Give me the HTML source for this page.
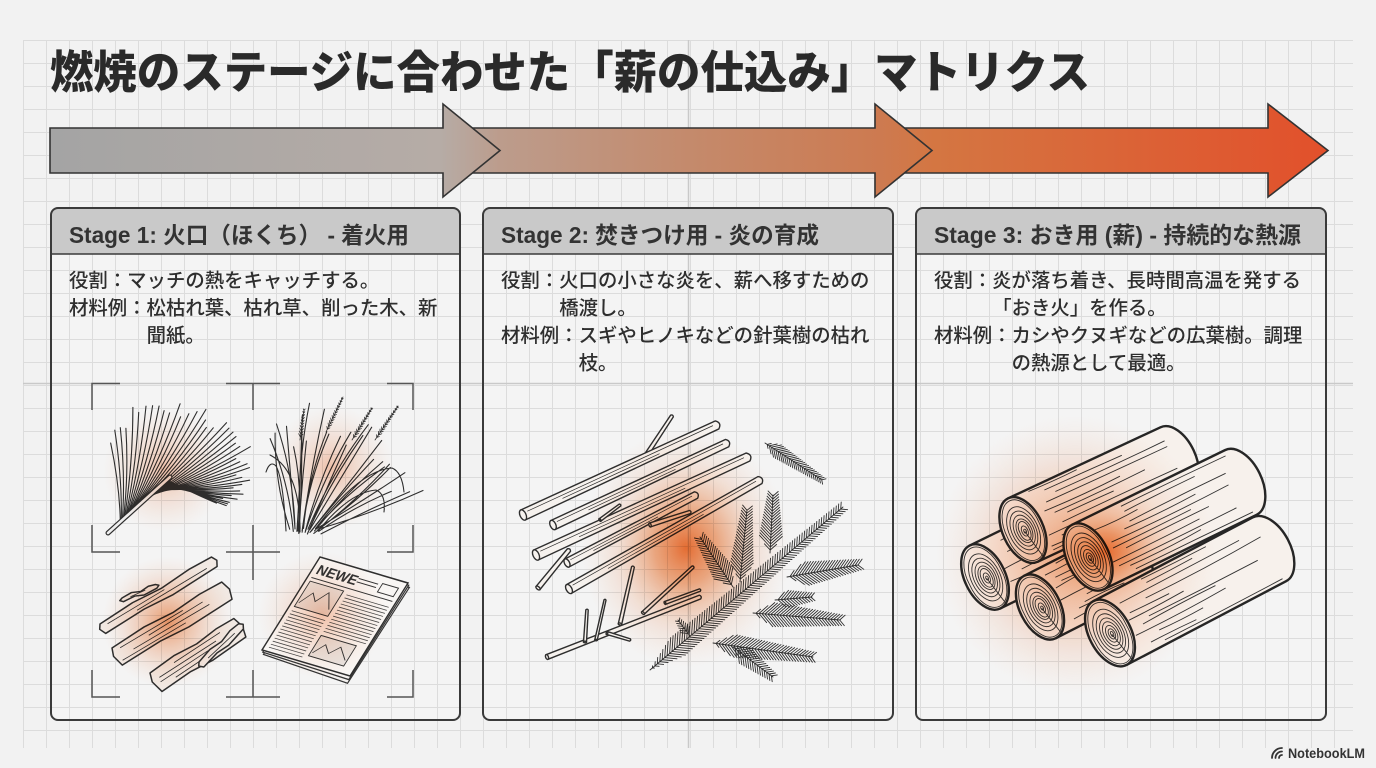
<!DOCTYPE html>
<html><head><meta charset="utf-8">
<style>
html,body{margin:0;padding:0;background:#f2f2f2;width:1376px;height:768px;overflow:hidden;}
svg{display:block}
.t{font-family:"Liberation Sans","Noto Sans CJK JP",sans-serif;}
.body{font-family:"Liberation Sans","Noto Sans CJK JP",sans-serif;font-size:19.4px;fill:#2e2e2e;font-weight:500;}
.hd{font-family:"Liberation Sans","Noto Sans CJK JP",sans-serif;font-size:23px;fill:#333;font-weight:bold;}
</style></head><body>
<svg id="s" width="1376" height="768" viewBox="0 0 1376 768" xmlns="http://www.w3.org/2000/svg">
<defs>
<pattern id="grid" x="0" y="17" width="23" height="23" patternUnits="userSpaceOnUse">
<path d="M0.5 0V23M0 0.5H23" stroke="#dcdcdc" stroke-width="1" fill="none"/>
</pattern>
<linearGradient id="ag" gradientUnits="userSpaceOnUse" x1="50" y1="0" x2="1328" y2="0">
<stop offset="0" stop-color="#a4a4a4"/>
<stop offset="0.305" stop-color="#b6aca6"/>
<stop offset="0.352" stop-color="#bc9c8c"/>
<stop offset="0.5" stop-color="#c48a6c"/>
<stop offset="0.65" stop-color="#cd7a50"/>
<stop offset="0.692" stop-color="#d47642"/>
<stop offset="1" stop-color="#e2502b"/>
</linearGradient>
<radialGradient id="gl"><stop offset="0" stop-color="#f5a47c" stop-opacity="0.6"/><stop offset="0.6" stop-color="#f8c4a8" stop-opacity="0.25"/><stop offset="1" stop-color="#fbd8c4" stop-opacity="0"/></radialGradient>
<radialGradient id="gm"><stop offset="0" stop-color="#f08a50" stop-opacity="0.8"/><stop offset="0.55" stop-color="#f5ad85" stop-opacity="0.35"/><stop offset="1" stop-color="#fbd8c4" stop-opacity="0"/></radialGradient>
<radialGradient id="gs"><stop offset="0" stop-color="#ee6a2a" stop-opacity="0.95"/><stop offset="0.3" stop-color="#f08a50" stop-opacity="0.7"/><stop offset="0.65" stop-color="#f6b894" stop-opacity="0.3"/><stop offset="1" stop-color="#fbd8c4" stop-opacity="0"/></radialGradient>
</defs>

<rect width="1376" height="768" fill="#f2f2f2"/>
<rect x="23" y="40" width="1330" height="708" fill="url(#grid)"/>

<!-- panel bodies -->
<rect x="51" y="208" width="409" height="512" rx="7" fill="#f4f4f4"/>
<rect x="51" y="208" width="409" height="512" rx="7" fill="url(#grid)"/>
<rect x="483" y="208" width="410" height="512" rx="7" fill="#f4f4f4"/>
<rect x="483" y="208" width="410" height="512" rx="7" fill="url(#grid)"/>
<rect x="916" y="208" width="410" height="512" rx="7" fill="#f4f4f4"/>
<rect x="916" y="208" width="410" height="512" rx="7" fill="url(#grid)"/>

<!-- crosshair -->
<line x1="23" y1="383.5" x2="1353" y2="383.5" stroke="#c9c9c9" stroke-width="1.5"/>
<line x1="688.5" y1="40" x2="688.5" y2="748" stroke="#c9c9c9" stroke-width="1.5"/>

<!-- panel headers & borders -->
<path d="M51,254V215Q51,208 58,208H453Q460,208 460,215V254Z" fill="#c9c9c9"/>
<path d="M483,254V215Q483,208 490,208H886Q893,208 893,215V254Z" fill="#c9c9c9"/>
<path d="M916,254V215Q916,208 923,208H1319Q1326,208 1326,215V254Z" fill="#c9c9c9"/>
<g stroke="#3a3a3a" stroke-width="1.6" fill="none">
<line x1="51" y1="254" x2="460" y2="254"/>
<line x1="483" y1="254" x2="893" y2="254"/>
<line x1="916" y1="254" x2="1326" y2="254"/>
<rect x="51" y="208" width="409" height="512" rx="7" stroke-width="2"/>
<rect x="483" y="208" width="410" height="512" rx="7" stroke-width="2"/>
<rect x="916" y="208" width="410" height="512" rx="7" stroke-width="2"/>
</g>

<!-- title -->
<text class="t" x="50" y="88" font-size="45" font-weight="900" fill="#2a2a2a" textLength="1040" lengthAdjust="spacingAndGlyphs">燃焼のステージに合わせた「薪の仕込み」マトリクス</text>

<!-- arrows -->
<g stroke="#333" stroke-width="1.6" fill="url(#ag)" stroke-linejoin="miter">
<polygon points="895,128 1268,128 1268,104 1328,150.5 1268,197 1268,173 895,173"/>
<polygon points="465,128 875,128 875,104 932,150.5 875,197 875,173 465,173"/>
<polygon points="50,128 443,128 443,104 500,150.5 443,197 443,173 50,173"/>
</g>

<!-- headers text -->
<text class="hd" x="69" y="243" textLength="340" lengthAdjust="spacingAndGlyphs">Stage 1: 火口（ほくち） - 着火用</text>
<text class="hd" x="501" y="243" textLength="318" lengthAdjust="spacingAndGlyphs">Stage 2: 焚きつけ用 - 炎の育成</text>
<text class="hd" x="934" y="243" textLength="367" lengthAdjust="spacingAndGlyphs">Stage 3: おき用 (薪) - 持続的な熱源</text>

<!-- body text -->
<text class="body" x="69" y="287">役割：マッチの熱をキャッチする。</text>
<text class="body" x="69" y="314.5">材料例：松枯れ葉、枯れ草、削った木、新</text>
<text class="body" x="146.6" y="342">聞紙。</text>

<text class="body" x="501" y="287">役割：火口の小さな炎を、薪へ移すための</text>
<text class="body" x="559.2" y="314.5">橋渡し。</text>
<text class="body" x="501" y="342">材料例：スギやヒノキなどの針葉樹の枯れ</text>
<text class="body" x="578.6" y="369.5">枝。</text>

<text class="body" x="934" y="287">役割：炎が落ち着き、長時間高温を発する</text>
<text class="body" x="992.2" y="314.5">「おき火」を作る。</text>
<text class="body" x="934" y="342">材料例：カシやクヌギなどの広葉樹。調理</text>
<text class="body" x="1011.6" y="369.5">の熱源として最適。</text>

<!-- crop marks panel 1 -->
<g stroke="#555" stroke-width="1.5" fill="none">
<path d="M92,410V383.5H120"/>
<path d="M226,383.5H280M253,383.5V410"/>
<path d="M387,383.5H413V410"/>
<path d="M92,525V552H120"/>
<path d="M226,552H280M253,525V580"/>
<path d="M387,552H413V525"/>
<path d="M92,670V697H120"/>
<path d="M226,697H280M253,697V670"/>
<path d="M387,697H413V670"/>
</g>

<!-- newspaper -->
<g transform="matrix(0.88,0.26,-0.527,0.845,320,557)">
<path d="M6,8 L104,4 L102,118 L4,114Z" fill="#f3f0ee" stroke="#333" stroke-width="1.3"/>
<path d="M3,4 L102,2 L101,114 L2,112Z" fill="#f6f3f1" stroke="#333" stroke-width="1.3"/>
<path d="M0,0 L100,0 L100,110 L0,110Z" fill="#f8f6f4" stroke="#2e2e2e" stroke-width="1.6"/>
<text x="5" y="18" font-family="Liberation Sans, sans-serif" font-weight="bold" font-size="15" fill="#333">NEWE</text>
<rect x="76" y="8" width="18" height="10" fill="none" stroke="#333" stroke-width="1"/>
<path d="M50,10H72M50,14H72M4,23H96" stroke="#333" stroke-width="1"/>
<rect x="5" y="27" width="38" height="30" fill="#e9e5e2" stroke="#333" stroke-width="1"/>
<path d="M7,52L15,38L22,46L30,33L40,50" stroke="#333" stroke-width="0.9" fill="none"/>
<rect x="48" y="78" width="40" height="24" fill="#e9e5e2" stroke="#333" stroke-width="1"/>
<path d="M50,98L58,86L66,94L74,84L86,96" stroke="#333" stroke-width="0.9" fill="none"/>
<path id="nplines" stroke="#444" stroke-width="0.8" fill="none" d=""/>
</g>

<g id="ill"></g>

<!-- glows -->
<g style="mix-blend-mode:multiply">
<circle cx="165" cy="470" r="62" fill="url(#gl)"/>
<circle cx="332" cy="468" r="62" fill="url(#gl)"/>
<circle cx="168" cy="622" r="66" fill="url(#gm)"/>
<circle cx="322" cy="615" r="64" fill="url(#gl)"/>
<ellipse cx="686" cy="548" rx="105" ry="120" fill="url(#gs)"/>
<circle cx="1075" cy="555" r="140" fill="url(#gm)"/>
<ellipse cx="1105" cy="552" rx="78" ry="62" fill="url(#gs)"/>
</g>

<!-- NotebookLM -->
<g stroke="#333" stroke-width="1.8" fill="none" stroke-linecap="round">
<path d="M1272,758A10,10 0 0 1 1282,748"/>
<path d="M1275.5,758A6.5,6.5 0 0 1 1282,751.5"/>
<path d="M1279,758A3,3 0 0 1 1282,755"/>
</g>
<text x="1288" y="758" font-family="Liberation Sans, sans-serif" font-weight="bold" font-size="14" fill="#333" textLength="77" lengthAdjust="spacingAndGlyphs">NotebookLM</text>
</svg>

<script>
(function(){
const NS="http://www.w3.org/2000/svg";
function el(p,t,a){const e=document.createElementNS(NS,t);for(const k in a)e.setAttribute(k,a[k]);p.appendChild(e);return e;}
let seed=11;function rnd(){seed=(seed*16807)%2147483647;return (seed-1)/2147483646;}
const ill=document.getElementById('ill');
const K='#2e2e2e';
const f=n=>n.toFixed(1);

/* newspaper lines */
let nd='';
for(let y=62;y<=106;y+=3.6){ nd+=`M5,${f(y)}H43`; }
for(let y=30;y<=74;y+=3.6){ nd+=`M48,${f(y)}H96`; }
document.getElementById('nplines').setAttribute('d',nd);

/* pine needles */
(function(){
 let d='';
 const n=44;
 for(let i=0;i<n;i++){
  const t=i/(n-1);
  const u=0.15+0.85*t;
  const ox=112+55*u, oy=528-48*u;
  const phi=(-97+122*t)*Math.PI/180;
  let len=112;
  if(t>0.55) len-=55*(t-0.55)/0.45;
  if(t<0.15) len-=25*(0.15-t)/0.15;
  len*=(0.9+0.2*rnd());
  const tx=ox+len*Math.cos(phi), ty=oy+len*Math.sin(phi);
  const cx=(ox+tx)/2+4, cy=(oy+ty)/2+3;
  d+=`M${f(ox)},${f(oy)}Q${f(cx)},${f(cy)} ${f(tx)},${f(ty)}`;
 }
 el(ill,'path',{d,stroke:K,'stroke-width':1.1,fill:'none','stroke-linecap':'round'});
 el(ill,'path',{d:'M108,533L170,477',stroke:K,'stroke-width':5,'stroke-linecap':'round'});
 el(ill,'path',{d:'M108,533L170,477',stroke:'#eee','stroke-width':2.6,'stroke-linecap':'round'});
})();

/* fern helper */
function fern(x0,y0,x1,y1,maxLen,step,sw,spread){
  spread=spread||0.8;
  const dx=x1-x0,dy=y1-y0,L=Math.hypot(dx,dy),ux=dx/L,uy=dy/L;
  let d=`M${f(x0)},${f(y0)}L${f(x1)},${f(y1)}`;
  const base=Math.atan2(uy,ux);
  for(let s=step;s<L;s+=step){
    const t=s/L;
    let len=maxLen*(1-0.6*t);
    if(t<0.1) len*=t/0.1;
    const px=x0+ux*s, py=y0+uy*s;
    for(const sg of [1,-1]){
      const a=base+sg*spread;
      d+=`M${f(px)},${f(py)}l${f(Math.cos(a)*len)},${f(Math.sin(a)*len)}`;
    }
  }
  el(ill,'path',{d,stroke:K,'stroke-width':sw,fill:'none','stroke-linecap':'round'});
}

/* grass */
(function(){
 let d='';
 const n=28;
 for(let i=0;i<n;i++){
  const t=i/(n-1);
  const bx=289+30*t+rnd()*4, by=534-rnd()*6;
  const ang=(-104+78*t+(rnd()-0.5)*12)*Math.PI/180;
  const len=(t<0.5?92+60*t:122-45*(t-0.5))*(0.8+0.35*rnd());
  const tx=bx+len*Math.cos(ang), ty=by+len*Math.sin(ang);
  const off=(rnd()-0.5)*16;
  const cx=(bx+tx)/2+off*Math.sin(ang), cy=(by+ty)/2-off*Math.cos(ang);
  d+=`M${f(bx)},${f(by)}Q${f(cx)},${f(cy)} ${f(tx)},${f(ty)}`;
 }
 d+='M286,531Q283,478 276,466Q270,460 266,472';
 d+='M316,528Q360,470 392,468Q402,472 404,492';
 d+='M318,531Q350,492 376,490Q386,494 384,512';
 d+='M300,532Q300,470 270,455';
 el(ill,'path',{d,stroke:K,'stroke-width':1.1,fill:'none','stroke-linecap':'round'});
 fern(326,432,343,397,4,3,0.8,0.6);
 fern(352,440,372,408,4,3,0.8,0.6);
 fern(375,440,398,406,4,3,0.8,0.6);
 fern(300,440,304,410,4,3,0.8,0.6);
})();

/* wood shavings */
function strip(x0,y0,ang,L,w){
 const g=el(ill,'g',{transform:`translate(${x0},${y0}) rotate(${ang})`});
 const d=`M0,0L${f(L*0.3)},-1.5L${f(L*0.55)},1L${f(L*0.8)},-1L${L},0L${L+3},${f(w*0.5)}L${L},${w}L${f(L*0.6)},${f(w+1.5)}L${f(L*0.35)},${f(w-1)}L0,${w}L-3,${f(w*0.4)}Z`;
 el(g,'path',{d,fill:'#f1e9e3',stroke:K,'stroke-width':1.5,'stroke-linejoin':'round'});
 let gd='';
 const k=Math.max(1,Math.floor(w/5));
 for(let i=1;i<=k;i++){const yy=i*w/(k+1);const s=rnd()*L*0.3;gd+=`M${f(s)},${f(yy)}L${f(s+L*0.4+rnd()*L*0.3)},${f(yy+(rnd()-0.5)*2)}`;}
 el(g,'path',{d:gd,stroke:K,'stroke-width':0.8,fill:'none'});
}
strip(100,624,-31,130,11);
strip(112,648,-31,128,20);
strip(150,673,-33,100,22);
strip(199,662,-44,55,7);
strip(122,598,-22,36,4);

/* sticks */
function stick(x0,y0,x1,y1,w){
  const ang=Math.atan2(y1-y0,x1-x0)*180/Math.PI, L=Math.hypot(x1-x0,y1-y0);
  const g=el(ill,'g',{transform:`translate(${x0},${y0}) rotate(${f(ang)})`});
  const r=w/2;
  el(g,'path',{d:`M0,${-r}L${f(L)},${f(-r*0.8)}Q${f(L+r)},0 ${f(L)},${f(r*0.8)}L0,${r}Z`,fill:'#f6f2ee',stroke:K,'stroke-width':1.4});
  if(w>6) el(g,'path',{d:`M${r},${f(-r*0.3)}L${f(L-4)},${f(-r*0.2)}M${f(L*0.2)},${f(r*0.3)}L${f(L*0.7)},${f(r*0.35)}`,stroke:K,'stroke-width':0.7,fill:'none'});
  el(g,'ellipse',{cx:0,cy:0,rx:f(r*0.55),ry:r,fill:'#f6f2ee',stroke:K,'stroke-width':1.4});
}
stick(643,460,672,416,4);
stick(523,515,717,425,11);
stick(553,525,727,443,10);
stick(536,555,748,457,11);
stick(600,520,620,505,3);
stick(567,563,696,495,9);
stick(650,525,690,512,4);
stick(569,589,760,480,10);
stick(538,588,569,550,5);
/* twig branch */
stick(547,657,700,597,5);
stick(585,642,587,610,3);
stick(620,624,633,567,3.5);
stick(643,613,693,567,3.5);
stick(607,633,630,640,3);
stick(665,603,700,590,3);
stick(596,640,605,600,2.5);

/* ferns */
fern(765,443,822,480,11,2.6,0.9);
fern(650,670,843,507,17,3.2,0.9);
fern(733,587,700,537,17,3,0.9);
fern(740,582,747,510,17,3,0.9);
fern(770,553,773,495,17,3,0.9);
fern(787,577,858,565,18,3,0.9);
fern(753,613,840,620,18,3,0.9);
fern(775,600,812,597,13,3,0.9);
fern(713,643,813,657,17,3,0.9);
fern(733,647,773,677,14,3,0.9);
fern(690,636,678,620,8,3,0.9);

/* logs */
function log(cx,cy,ang,L,r){
  const g=el(ill,'g',{transform:`translate(${cx},${cy}) rotate(${ang})`});
  const ex=r*0.58;
  el(g,'path',{d:`M0,${-r}L${L},${-r}A${f(ex)},${r} 0 0 1 ${L},${r}L0,${r}Z`,fill:'#f7f1ec',stroke:'#262626','stroke-width':2.4,'stroke-linejoin':'round'});
  let d='';
  for(let k=0;k<12;k++){
    const yy=-r*0.9+k*(1.8*r/11)+(rnd()-0.5)*3;
    const xs=ex*0.8+rnd()*40, xe=Math.min(L-2, xs+40+rnd()*(L-50));
    const mid=(xs+xe)/2;
    d+=`M${f(xs)},${f(yy)}Q${f(mid)},${f(yy+(rnd()-0.5)*4)} ${f(xe)},${f(yy+(rnd()-0.5)*3)}`;
  }
  el(g,'path',{d,stroke:'#333','stroke-width':0.9,fill:'none'});
  el(g,'ellipse',{cx:0,cy:0,rx:f(ex),ry:r,fill:'#f7f1ec',stroke:'#262626','stroke-width':2.4});
  let rd='';
  for(const k of [0.86,0.72,0.59,0.47,0.36,0.25,0.15,0.06]){
    const ox=(1-k)*1.5, oy=(1-k)*2;
    rd+=`M${f(ox-ex*k)},${f(oy)}a${f(ex*k)},${f(r*k)} 0 1 0 ${f(2*ex*k)},0a${f(ex*k)},${f(r*k)} 0 1 0 ${f(-2*ex*k)},0`;
  }
  rd+=`M1,2L${f(ex*0.35)},${f(r*0.92)}`;
  el(g,'path',{d:rd,stroke:'#333','stroke-width':0.9,fill:'none'});
}
log(985,577,-26,100,35);
log(1023,530,-25,168,35);
log(1040,607,-27,100,35);
log(1110,633,-27.7,180,36);
log(1088,557,-26,170,36);
})();
</script>
</body></html>
